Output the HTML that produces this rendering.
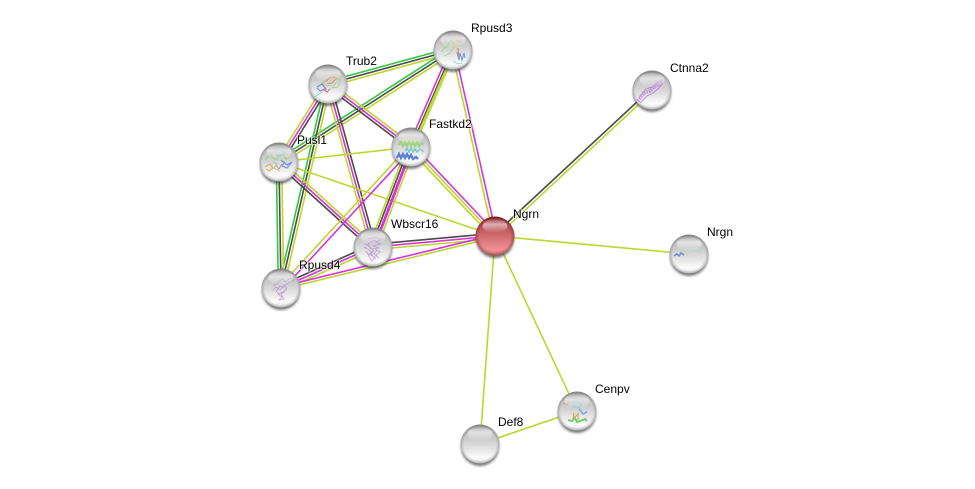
<!DOCTYPE html>
<html><head><meta charset="utf-8"><style>
html,body{margin:0;padding:0;background:#fff;width:975px;height:489px;overflow:hidden}
svg{display:block}
text{font-family:"Liberation Sans",sans-serif;font-size:12px;fill:#000;paint-order:stroke;stroke:#fff;stroke-width:2px;stroke-opacity:.6}
.g{stroke:#2fc93c}.k{stroke:#4a4a4a}.y{stroke:#bcd62e}.m{stroke:#d932d9}
line{stroke-width:1.6;fill:none}
.s polyline{fill:none;stroke-width:.8}
</style></head><body>
<svg width="975" height="489" viewBox="0 0 975 489" xmlns="http://www.w3.org/2000/svg">
<defs>
<linearGradient id="b" x1="0" y1="0" x2="0" y2="1"><stop offset="0" stop-color="#8e8e8e"/><stop offset=".15" stop-color="#bcbcbc"/><stop offset=".45" stop-color="#d2d2d2"/><stop offset=".85" stop-color="#fcfcfc"/><stop offset="1" stop-color="#e4e4e4"/></linearGradient>
<linearGradient id="r" x1="0" y1="0" x2="0" y2="1"><stop offset="0" stop-color="#84282c"/><stop offset=".2" stop-color="#b44a4e"/><stop offset=".45" stop-color="#c9666a"/><stop offset=".85" stop-color="#f29296"/><stop offset="1" stop-color="#d87a7e"/></linearGradient>
<radialGradient id="e" cx="50%" cy="50%" r="50%"><stop offset=".84" stop-color="#666" stop-opacity="0"/><stop offset="1" stop-color="#666" stop-opacity=".42"/></radialGradient>
<radialGradient id="er" cx="50%" cy="50%" r="50%"><stop offset=".8" stop-color="#701c20" stop-opacity="0"/><stop offset="1" stop-color="#701c20" stop-opacity=".45"/></radialGradient>
<linearGradient id="h" x1="0" y1="0" x2="0" y2="1"><stop offset="0" stop-color="#fff" stop-opacity=".1"/><stop offset=".4" stop-color="#fff" stop-opacity=".55"/><stop offset="1" stop-color="#fff" stop-opacity="0"/></linearGradient>
<filter id="f" x="-30%" y="-30%" width="160%" height="160%"><feGaussianBlur stdDeviation="1.2"/></filter>
<g id="base"><circle cx="0" cy="3" r="19" fill="#3c3c3c" opacity=".7" filter="url(#f)"/><circle r="19.5" fill="url(#b)"/><circle r="19.5" fill="url(#e)"/></g>
<g id="top"><ellipse cx="0" cy="-10" rx="12.5" ry="7" fill="url(#h)"/></g>
</defs>

<!-- Trub2-Rpusd3 -->
<line class="g" x1="327.3" y1="81.4" x2="452.3" y2="47.4"/><line class="k" x1="328" y1="84" x2="453" y2="50"/><line class="y" x1="328.7" y1="86.6" x2="453.7" y2="52.6"/>
<!-- Pusl1-Rpusd3 -->
<line class="g" x1="277.5" y1="159.7" x2="451.5" y2="47.7"/><line class="k" x1="279" y1="162" x2="453" y2="50"/><line class="y" x1="280.5" y1="164.3" x2="454.5" y2="52.3"/>
<!-- Trub2-Fastkd2 -->
<line class="y" x1="329.6" y1="81.85" x2="412.6" y2="144.85"/><line class="m" x1="328" y1="84" x2="411" y2="147"/><line class="k" x1="326.4" y1="86.15" x2="409.4" y2="149.15"/>
<!-- Trub2-Pusl1 -->
<line class="y" x1="325.7" y1="82.6" x2="276.7" y2="160.6"/><line class="m" x1="328" y1="84" x2="279" y2="162"/><line class="k" x1="330.3" y1="85.4" x2="281.3" y2="163.4"/>
<!-- Trub2-Wbscr16 -->
<line class="y" x1="325.4" y1="84.7" x2="370.4" y2="247.7"/><line class="m" x1="328" y1="84" x2="373" y2="247"/><line class="k" x1="330.6" y1="83.3" x2="375.6" y2="246.3"/>
<!-- Trub2-Rpusd4 -->
<line class="g" x1="325.4" y1="83.4" x2="278.4" y2="287.4"/><line class="k" x1="328" y1="84" x2="281" y2="288"/><line class="y" x1="330.6" y1="84.6" x2="283.6" y2="288.6"/>
<!-- Pusl1-Rpusd4 -->
<line class="g" x1="276.3" y1="162" x2="278.3" y2="288"/><line class="k" x1="279" y1="162" x2="281" y2="288"/><line class="y" x1="281.7" y1="162" x2="283.7" y2="288"/>
<!-- single -->
<line class="y" x1="279" y1="162" x2="411" y2="147"/>
<line class="y" x1="279" y1="162" x2="495" y2="236"/>
<!-- Pusl1-Wbscr16 -->
<line class="y" x1="280.8" y1="160" x2="374.8" y2="245"/><line class="m" x1="279" y1="162" x2="373" y2="247"/><line class="k" x1="277.2" y1="164" x2="371.2" y2="249"/>
<!-- Fastkd2-Rpusd3 -->
<line class="m" x1="408.5" y1="145.9" x2="450.5" y2="48.9"/><line class="k" x1="411" y1="147" x2="453" y2="50"/><line class="y" x1="412" y1="147.5" x2="454" y2="50.5"/><line class="y" x1="413.5" y1="148.1" x2="455.5" y2="51.1"/>
<!-- Rpusd3-Ngrn -->
<line class="y" x1="451.5" y1="50.3" x2="493.5" y2="236.3"/><line class="m" x1="454.5" y1="49.7" x2="496.5" y2="235.7"/>
<!-- Fastkd2-Ngrn -->
<line class="y" x1="409" y1="148.9" x2="493" y2="237.9"/><line class="y" x1="411" y1="147" x2="495" y2="236"/><line class="m" x1="413" y1="145.1" x2="497" y2="234.1"/>
<!-- Fastkd2-Wbscr16 -->
<line class="y" x1="407.3" y1="145.6" x2="369.3" y2="245.6"/><line class="k" x1="409.3" y1="146.4" x2="371.3" y2="246.4"/><line class="m" x1="411.4" y1="147.2" x2="373.4" y2="247.2"/><line class="m" x1="412.6" y1="147.6" x2="374.6" y2="247.6"/><line class="y" x1="414.7" y1="148.4" x2="376.7" y2="248.4"/>
<!-- Fastkd2-Rpusd4 -->
<line class="y" x1="409.5" y1="145.6" x2="279.5" y2="286.6"/><line class="m" x1="412.5" y1="148.4" x2="282.5" y2="289.4"/>
<!-- Wbscr16-Ngrn -->
<line class="k" x1="372.75" y1="244.3" x2="494.75" y2="233.3"/><line class="m" x1="373" y1="247" x2="495" y2="236"/><line class="y" x1="373.25" y1="249.7" x2="495.25" y2="238.7"/>
<!-- Rpusd4-Wbscr16 -->
<line class="k" x1="279.9" y1="285.5" x2="371.9" y2="244.5"/><line class="m" x1="281" y1="288" x2="373" y2="247"/><line class="y" x1="282.1" y1="290.5" x2="374.1" y2="249.5"/>
<!-- Rpusd4-Ngrn -->
<line class="m" x1="280.4" y1="286.8" x2="494.4" y2="234.8"/><line class="y" x1="281.6" y1="289.2" x2="495.6" y2="237.2"/>
<!-- Ngrn-Ctnna2 -->
<line class="k" x1="494" y1="234.9" x2="651" y2="88.9"/><line class="y" x1="496" y1="237.1" x2="653" y2="91.1"/>
<!-- others -->
<line class="y" x1="495" y1="236" x2="689" y2="254"/>
<line class="y" x1="495" y1="236" x2="480" y2="444"/>
<line class="y" x1="495" y1="236" x2="577" y2="411"/>
<line class="y" x1="480" y1="444" x2="577" y2="411"/>

<!-- Nodes -->
<g transform="translate(453,50)"><use href="#base"/><g class="s" opacity=".7"><polyline stroke="#7fd07f" points="-12,2 -9,-2 -6,-3 -4,-7 -2,-10 1,-6 2,-4 -1,0 -4,4 -9,6"/><polyline stroke="#e0d080" points="-4,-12 3,-14 8,-8 4,-2 0,-6 -3,-3"/><polyline stroke="#3f7fd0" style="stroke-width:1.2" points="4,2 6,10 7,3 9,10 11,3 12,8"/><polyline stroke="#d07040" style="stroke-width:1.2" points="5,-2 6,8"/><polyline stroke="#50c0b0" points="0,11 5,14 9,13"/><polyline stroke="#e08080" points="3,-10 7,-8 9,-11"/></g><use href="#top"/></g>
<g transform="translate(328,84)"><use href="#base"/><g class="s" opacity=".75"><polyline stroke="#e08050" style="stroke-width:1.2" points="-3,-2 3,-7 9,-6 4,-1 -1,0"/><polyline stroke="#a0c860" points="5,-8 12,-4 10,3 4,4 8,-1"/><polyline stroke="#5070d0" style="stroke-width:1.2" points="-11,3 -6,0 -2,5 -8,7 -11,4"/><polyline stroke="#d04060" style="stroke-width:1.2" points="-5,5 -1,8 2,5"/><polyline stroke="#50c0c0" points="-13,13 -9,10 -6,8"/><polyline stroke="#80d090" points="-2,-4 -6,-1 -1,2 4,1"/></g><use href="#top"/></g>
<g transform="translate(411,147)"><use href="#base"/><g class="s" opacity=".85"><polyline stroke="#f0d0b0" style="stroke-width:1.4" points="-9,-8 -7,-5 -5,-8 -3,-5 -1,-8 1,-5 3,-8 5,-5 7,-8"/><polyline stroke="#90d870" style="stroke-width:2" points="-12,-2 -10,-5 -8,-1 -6,-5 -4,-1 -2,-5 0,-1 2,-5 4,-1 6,-5 8,-1 11,-4 13,-3"/><polyline stroke="#60c8c0" style="stroke-width:1.4" points="-6,4 -4,1 -2,5 0,1 2,5 4,2 6,5 9,2 13,5"/><polyline stroke="#4070d0" style="stroke-width:2.4" points="-14,11 -12,7 -10,11 -8,7 -6,11 -4,7 -2,11 0,8 2,12 5,10 7,12"/></g><use href="#top"/></g>
<g transform="translate(279,162)"><use href="#base"/><g class="s" opacity=".75"><polyline stroke="#90d070" style="stroke-width:1.2" points="-14,-2 -11,-5 -8,-7 -5,-3 -2,-3 1,-7 4,-8 7,-3 10,-4"/><polyline stroke="#e0a040" style="stroke-width:1.2" points="-14,5 -9,2 -6,6 -10,9 -13,7"/><polyline stroke="#4f80e0" style="stroke-width:1.2" points="2,-2 8,3 13,0 8,6 3,4 6,0"/><polyline stroke="#50d0c0" points="-5,-10 0,-12 6,-10 2,-6 -3,-7"/><polyline stroke="#d06060" points="-3,3 0,7 3,2"/><polyline stroke="#80c090" points="-6,0 -2,2 -5,6 1,9"/></g><use href="#top"/></g>
<g transform="translate(373,247)"><use href="#base"/><g class="s" stroke="#b088d0" opacity=".75"><polyline points="-5,-8 3,-10 8,-7 2,-5 8,-3 0,-1 6,1 -2,2 -5,-3 1,-7 5,-5"/><polyline points="-9,0 -4,3 0,6 -5,7 2,10 -1,14 -4,9 -7,4"/><polyline points="2,2 7,5 3,8 6,11 1,7 4,3"/><polyline points="-8,-3 -3,0 1,4 -3,6 3,12"/></g><use href="#top"/></g>
<g transform="translate(281,288)"><use href="#base"/><g class="s" stroke="#b088d0" opacity=".75"><polyline points="-8,-2 -3,-5 1,-9 5,-6 9,-10 13,-8 9,-6 4,-3"/><polyline points="-9,3 -5,-1 -1,2 3,-3 6,1 2,4 -2,6 -5,3 -1,-2 3,0"/><polyline points="-3,6 1,9 -2,12 3,11 0,6 4,4"/></g><use href="#top"/></g>
<g transform="translate(495,236)"><circle cx="0" cy="3" r="19" fill="#333" opacity=".7" filter="url(#f)"/><circle r="19.5" fill="url(#r)"/><circle r="19.5" fill="url(#er)"/><use href="#top"/></g>
<g transform="translate(652,90)"><use href="#base"/><g class="s" stroke="#b67fd8" opacity=".75"><polyline style="stroke-width:3.5" stroke-dasharray="1.5 1" points="-14,11 -8,3 -2,1 2,-3 8,-6 11,-9"/><polyline style="stroke-width:1.2" points="-13,7 -6,-1 0,-3 6,-8 11,-11"/><polyline style="stroke-width:1.2" points="-12,13 -5,6 1,3 7,-2 10,-6"/></g><use href="#top"/></g>
<g transform="translate(689,254)"><use href="#base"/><g class="s" opacity=".8"><polyline stroke="#4a80d0" style="stroke-width:1.5" points="-15,2 -12,0 -10,2 -8,-1 -5,1"/><polyline stroke="#90e0c0" opacity=".5" points="-5,1 -1,0 3,-4 8,-3 12,-4"/></g><use href="#top"/></g>
<g transform="translate(577,411)"><use href="#base"/><g class="s" opacity=".8"><polyline stroke="#e09090" points="-14,-8 -10,-6 -7,-9"/><polyline stroke="#70d0d0" points="-6,-8 0,-10 5,-6 0,-3 -5,-5"/><polyline stroke="#40a0e0" style="stroke-width:1.3" points="2,-2 6,3 10,1"/><polyline stroke="#40c840" style="stroke-width:1.8" points="-9,9 -5,10 -2,7 0,11 3,10 8,8 10,10"/><polyline stroke="#c0a040" style="stroke-width:1.2" points="-3,2 -4,8 1,3 1,9"/></g><use href="#top"/></g>
<g transform="translate(480,444)"><use href="#base"/><use href="#top"/></g>

<!-- Labels -->
<text x="471" y="32">Rpusd3</text>
<text x="346" y="65">Trub2</text>
<text x="429" y="128">Fastkd2</text>
<text x="297" y="144">Pusl1</text>
<text x="391" y="228">Wbscr16</text>
<text x="299" y="269">Rpusd4</text>
<text x="513" y="218">Ngrn</text>
<text x="670" y="72">Ctnna2</text>
<text x="707" y="236">Nrgn</text>
<text x="595" y="393">Cenpv</text>
<text x="498" y="426">Def8</text>
</svg>
</body></html>
